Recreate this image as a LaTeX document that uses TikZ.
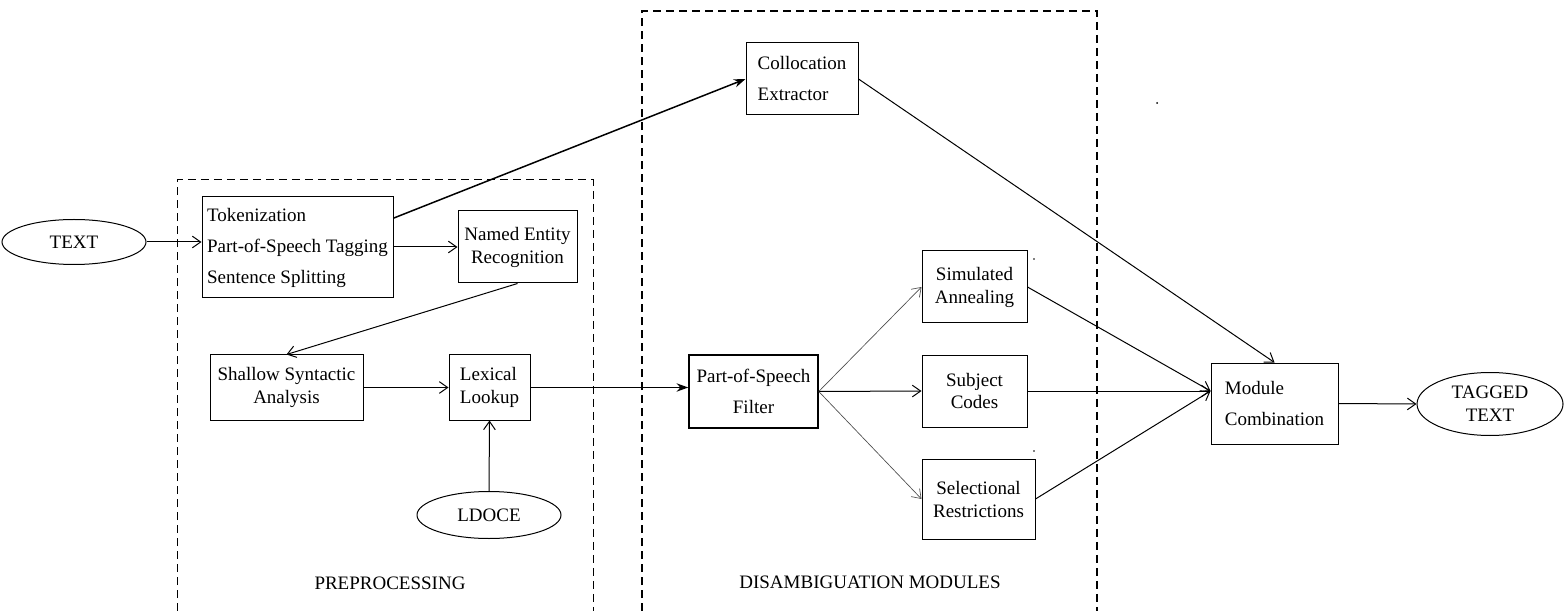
\documentclass[tikz,border=0pt]{standalone}
\usepackage{fontspec}
\setmainfont{Liberation Serif}
\usetikzlibrary{arrows.meta,shapes.geometric}
\begin{document}
\begin{tikzpicture}[x=0.6pt,y=-0.6pt,>={Straight Barb[length=5pt,width=7pt]},
	font=\fontsize{11.4}{13.8}\selectfont,
	box/.style={draw,line width=0.6pt,align=center,inner sep=0pt},
	oval/.style={draw,ellipse,line width=0.6pt,align=center,inner sep=0pt},
	loose/.style={font=\fontsize{11.4}{18.6}\selectfont},
	frame/.style={line width=0.6pt,dash pattern=on 4.8pt off 3pt},
	link/.style={->,line width=0.6pt},
	boldlink/.style={-{Stealth[length=7pt,width=5pt]},line width=0.9pt},
	fan/.style={->,line width=0.4pt,black!70}]
	\useasboundingbox (0,0) rectangle (1568,611);
	\draw[frame] (177,611) -- (177,180) -- (593,180) -- (593,611);
	\draw[frame,line width=0.8pt] (642,611) -- (642,11) -- (1097,11) -- (1097,611);
	\node at (390,583) {PREPROCESSING};
	\node at (870,582) {DISAMBIGUATION MODULES};
	\node[oval,minimum width=86.4pt,minimum height=27pt] (text) at (74,242) {TEXT};
	\node[box,loose,align=left,minimum width=114.6pt,minimum height=60.6pt] (tok) at (297.5,247.5)
		{Tokenization\\Part-of-Speech Tagging\\Sentence Splitting};
	\node[box,minimum width=71.4pt,minimum height=43.2pt] (ner) at (517.5,247) {Named Entity\\Recognition};
	\node[box,minimum width=91.8pt,minimum height=39pt] (shallow) at (286.5,387.5) {Shallow Syntactic\\Analysis};
	\node[box,align=left,minimum width=48.6pt,minimum height=39pt] (lex) at (489.5,387.5) {Lexical\\Lookup};
	\node[oval,minimum width=86.4pt,minimum height=28.2pt] (ldoce) at (489,515) {LDOCE};
	\node[box,loose,align=left,minimum width=67.2pt,minimum height=43.2pt] (coll) at (802,79) {Collocation\\Extractor};
	\node[box,loose,line width=0.9pt,minimum width=77.4pt,minimum height=43.8pt] (posf) at (753.5,391.5) {Part-of-Speech\\Filter};
	\node[box,minimum width=63pt,minimum height=43.2pt] (sim) at (974.5,287) {Simulated\\Annealing};
	\node[box,minimum width=63pt,minimum height=43.2pt] (subj) at (974.5,391) {Subject\\Codes};
	\node[box,minimum width=67.8pt,minimum height=48pt] (sel) at (978.5,499) {Selectional\\Restrictions};
	\node[box,loose,align=left,minimum width=76.2pt,minimum height=48.6pt] (modc) at (1274.5,403.5) {Module\\Combination};
	\node[oval,minimum width=87.6pt,minimum height=37.8pt] (tagged) at (1490,404) {TAGGED\\TEXT};
	\coordinate (mcin) at (subj.east -| modc.west);
	\draw[link] (text.east) -- (text.east -| tok.west);
	\draw[link] (tok.east |- ner.west) -- (ner.west);
	\draw[boldlink] (tok.17) -- (coll.west);
	\draw[link] (ner.south) -- (shallow.north);
	\draw[link] (shallow.east) -- (lex.west);
	\draw[link] (ldoce.north) -- (lex.south);
	\draw[boldlink] (lex.east) -- (lex.east -| posf.west);
	\draw[fan] (posf.east) -- (sim.west);
	\draw[link] (posf.east) -- (subj.west);
	\draw[fan] (posf.east) -- (sel.west);
	\draw[link] (sim.east) -- (mcin);
	\draw[link] (subj.east) -- (mcin);
	\draw[link] (sel.east) -- (mcin);
	\draw[link] (coll.east) -- (modc.north);
	\draw[link] (modc.east) -- (tagged.west);
	\fill (1034,259) circle (0.5pt) (1034,451) circle (0.5pt) (1157,103) circle (0.6pt);
\end{tikzpicture}
\end{document}
